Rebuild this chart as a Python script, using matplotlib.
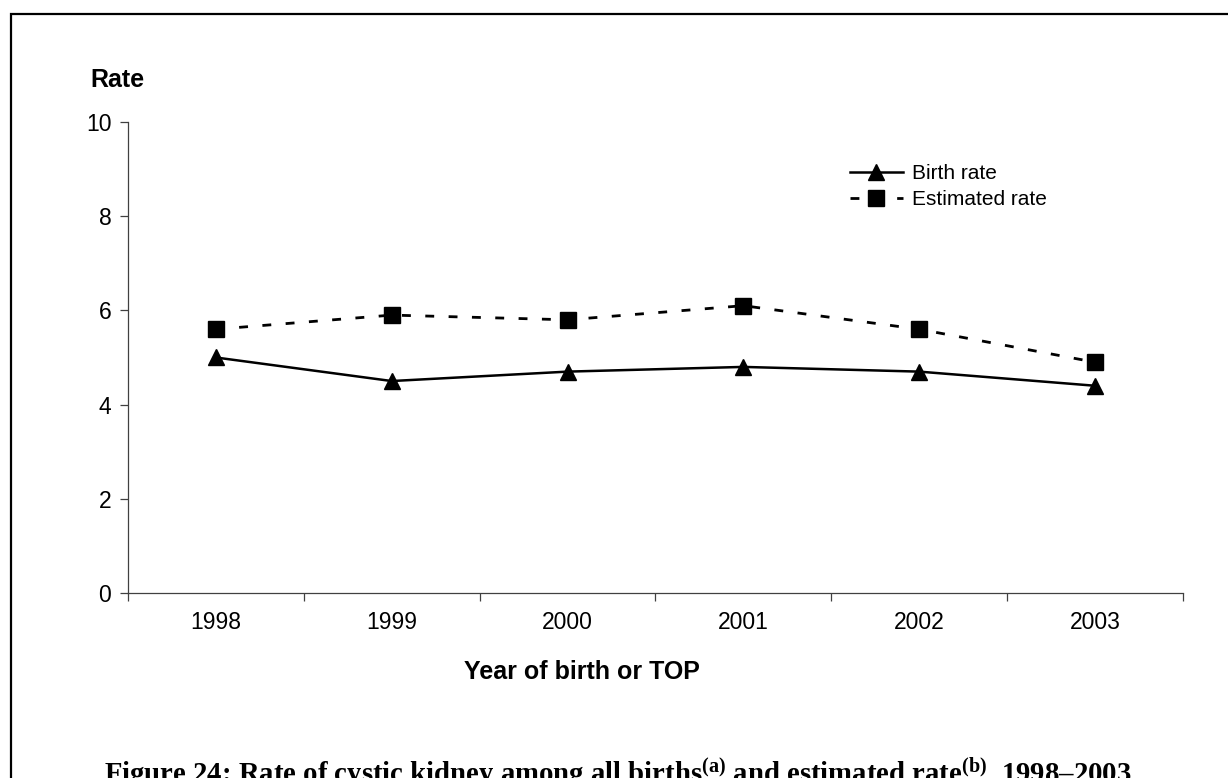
import numpy as np
import matplotlib.pyplot as plt
from matplotlib.patches import Rectangle

years = ['1998', '1999', '2000', '2001', '2002', '2003']
birth_rate = [5.0, 4.5, 4.7, 4.8, 4.7, 4.4]
estimated_rate = [5.6, 5.9, 5.8, 6.1, 5.6, 4.9]

plt.rcParams['font.family'] = ['Liberation Sans', 'DejaVu Sans']
plt.rcParams['mathtext.fontset'] = 'custom'
plt.rcParams['mathtext.rm'] = 'Liberation Serif:bold'

fig = plt.figure(figsize=(12.28, 7.78), dpi=100)
ax = fig.add_axes([0.1042, 0.2378, 0.8591, 0.6054])

x = np.arange(len(years)) + 0.5

# Plot the two series
ax.plot(x, birth_rate, c='k', lw=1.8, marker='^', ms=11.5, label='Birth rate')
ax.plot(x, estimated_rate, c='k', lw=2.0, ls=(0, (3.2, 5.2)), marker='s', ms=11,
        label='Estimated rate')

ax.set_xlim(0, len(years))
ax.set_ylim(0, 10)
ax.set_yticks([0, 2, 4, 6, 8, 10])
ax.set_xticks(np.arange(len(years) + 1))
ax.set_xticklabels([])
ax.set_xticks(x, minor=True)
ax.set_xticklabels(years, minor=True)
ax.tick_params(axis='x', which='minor', length=0, pad=13, labelsize=16.5)
ax.tick_params(axis='x', which='major', length=6, width=0.9, color='#404040')
ax.tick_params(axis='y', length=6, width=0.9, color='#404040', pad=6, labelsize=16.5)

for s in ['top', 'right']:
    ax.spines[s].set_visible(False)
for s in ['left', 'bottom']:
    ax.spines[s].set_linewidth(0.9)
    ax.spines[s].set_color('#404040')

ax.legend(loc='upper left', bbox_to_anchor=(0.684, 0.911), frameon=False, fontsize=15,
          handlelength=2.55, handletextpad=0.45, labelspacing=0.35, borderaxespad=0,
          borderpad=0)

fig.text(117 / 1228, 1 - 80 / 778, 'Rate', ha='center', va='center',
         fontsize=18, fontweight='bold')
fig.text(582 / 1228, 1 - 672 / 778, 'Year of birth or TOP', ha='center', va='center',
         fontsize=18, fontweight='bold')

# caption, cut at the bottom edge as in the source page
fig.text(104 / 1228, 1 - 784 / 778,
         r'Figure 24: Rate of cystic kidney among all births$\mathrm{^{(a)}}$ and estimated '
         r'rate$\mathrm{^{(b)}}$, 1998–2003',
         ha='left', va='baseline', fontsize=20.7, fontweight='bold',
         family=['Liberation Serif', 'DejaVu Serif'])

# outer frame
fig.patches.append(Rectangle((11 / 1228, -0.05), 1.1, 1.05 - 14 / 778,
                             transform=fig.transFigure, fill=False, lw=1.6, ec='k'))

fig.savefig('out.png', dpi=100)
